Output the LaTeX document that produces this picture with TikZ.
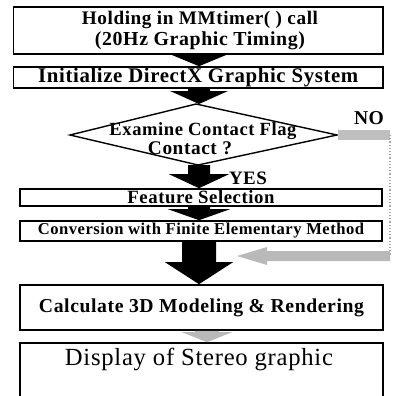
\documentclass[tikz,border=0pt]{standalone}
\usepackage{fontspec}
\setmainfont{Liberation Serif}
\newfontfamily\lsf[LetterSpace=3]{Liberation Serif}
\usetikzlibrary{calc}
\newcommand\tw[2]{\resizebox{#1pt}{!}{\lsf\bfseries #2}}
\newcommand\twr[2]{\resizebox{#1pt}{!}{\lsf #2}}
% block arrow pointing down: from, to, shaft half, head half, head length, style
\newcommand\barrow[6]{\fill[#6] let \p1=(#1), \p2=(#2) in
  (\x1-#3,\y1) -- (\x1+#3,\y1) -- (\x1+#3,\y2+#5) -- (\x1+#4,\y2+#5) --
  (\x1,\y2) -- (\x1-#4,\y2+#5) -- (\x1-#3,\y2+#5) -- cycle;}
\begin{document}
\begin{tikzpicture}[x=1pt,y=-1pt,
  box/.style={draw=black,line width=1.6pt,fill=white,rectangle,inner sep=0pt,align=center},
  lbl/.style={inner sep=0pt},
  dark/.style={fill=black},
  grayarr/.style={fill=gray!55}]
\useasboundingbox (0,0) rectangle (395,396);
\coordinate (axis) at (199,0);
\coordinate (axis2) at (207,0);
% diamond corners
\coordinate (dT) at (196,104);
\coordinate (dR) at (337,135);
\coordinate (dB) at (198,165);
\coordinate (dL) at (70,135);
% feedback path
\coordinate (fbA) at (390,135);
\coordinate (fbB) at (390,256);
\coordinate (fbTip) at (237,256);

% boxes
\node[box,minimum width=369.5pt,minimum height=47pt] (b1) at (198.25,30.5) {};
\node[lbl] (b1a) at (200,20) {\tw{236}{Holding in MMtimer( ) call}};
\node[lbl] (b1b) at (200,41) {\tw{210}{(20Hz Graphic Timing)}};
\node[box,minimum width=369.5pt,minimum height=21pt] (b2) at (198.25,77.5)
  {\tw{320}{Initialize DirectX Graphic System}};
\node[box,minimum width=362pt,minimum height=17pt] (fs) at (201,197.5)
  {\tw{147}{Feature Selection}};
\node[box,minimum width=362pt,minimum height=20pt] (cv) at (201,231)
  {\tw{326}{Conversion with Finite Elementary Method}};
\node[box,minimum width=363pt,minimum height=45pt] (calc) at (201.5,307.5)
  {\tw{325}{Calculate 3D Modeling \& Rendering}};
\node[box,minimum width=363pt,minimum height=70pt] (disp) at (201.5,378) {};
\node[lbl] (dtext) at (199,359) {\twr{268}{Display of Stereo graphic}};

% diamond
\draw[line width=1.4pt,line join=miter] (dT) -- (dR) -- (dB) -- (dL) -- cycle;
\node[lbl] (q1) at (203,131) {\tw{187}{Examine Contact Flag}};
\node[lbl] (q2) at (190,148) {\tw{84}{Contact ?}};
\node[lbl] (yes) at (248,178.5) {\tw{38}{YES}};
\node[lbl] (no) at (369,118) {\tw{30}{NO}};

% feedback (gray)
\fill[gray!50] ($(dR)+(1,-5)$) rectangle ($(fbA)+(0,5)$);
\draw[gray!70,line width=1.2pt,dotted] (fbA) -- (fbB);
\fill[gray!55] let \p1=(fbB), \p2=(fbTip) in
  (\x1,\y1+5) -- (\x1,\y1-5) -- (\x2+30,\y1-5) -- (\x2+30,\y1-9) --
  (\x2,\y2) -- (\x2+30,\y1+9) -- (\x2+30,\y1+5) -- cycle;

% main arrows
\barrow{b1.south -| axis}{b2.north -| axis}{11}{29}{12}{dark}
\barrow{b2.south -| axis}{dT -| axis}{11}{29}{13}{dark}
\barrow{dB -| axis}{fs.north -| axis}{11}{30}{14}{dark}
\barrow{fs.south -| axis}{cv.north -| axis}{11}{31}{11}{dark}
\barrow{cv.south -| axis}{calc.north -| axis}{17}{34}{22}{dark}
\barrow{calc.south -| axis2}{disp.north -| axis2}{12}{25}{10}{grayarr}
\end{tikzpicture}
\end{document}
